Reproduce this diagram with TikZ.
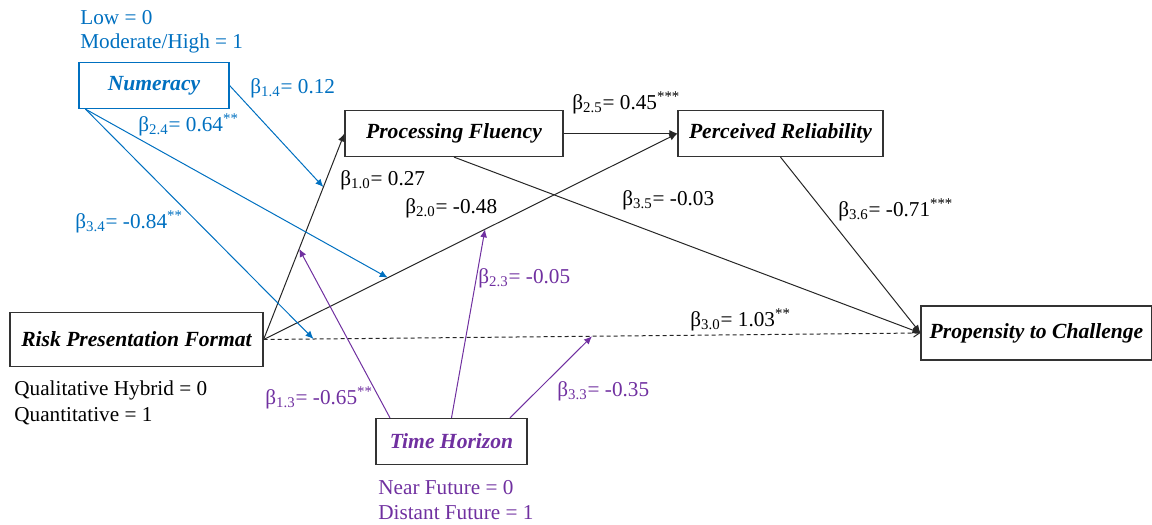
\documentclass[tikz,border=0pt]{standalone}
\usepackage{fontspec}
\setmainfont{Liberation Serif}
\usetikzlibrary{positioning,arrows.meta}
\definecolor{numblue}{RGB}{0,112,192}
\definecolor{thpurple}{RGB}{112,48,160}
\newcommand{\bcoef}[2]{β\textsubscript{#1}= #2}

\begin{document}
\begin{tikzpicture}[
  x=0.5pt, y=-0.5pt,
  font=\fontsize{10.6}{12}\selectfont,
  var/.style={rectangle, draw=black!80, line width=0.6pt, minimum height=23pt,
              inner sep=2pt, font=\fontsize{10.8}{12}\selectfont\bfseries\itshape},
  lab/.style={anchor=west, inner sep=0pt},
  eff/.style={-{Latex[length=4pt,width=3.5pt]}, draw=black!85, line width=0.5pt},
  nul/.style={-{Straight Barb[length=3pt,width=4pt]}, draw=black!85, line width=0.5pt,
              dash pattern=on 2pt off 1.5pt},
  modnum/.style={eff, draw=numblue},
  modth/.style={eff, draw=thpurple}
]
\useasboundingbox (0,0) rectangle (1152,525);

% variables
\node[var, draw=numblue, text=numblue, minimum width=75pt] (num) at (154,85.5) {Numeracy};
\node[var, minimum width=109pt] (pf)   at (454,133.5) {Processing Fluency};
\node[var, minimum width=102.5pt] (pr) at (780.5,133.5) {Perceived Reliability};
\node[var, minimum width=126.5pt, minimum height=27pt] (risk) at (136.5,339.5) {Risk Presentation Format};
\node[var, minimum width=115.5pt, minimum height=27pt] (prop) at (1036.5,333) {Propensity to Challenge};
\node[var, text=thpurple, minimum width=75.5pt] (th) at (451.5,441.5) {Time Horizon};

% codings
\node[lab, text=numblue] (numlo) at (80,18) {Low = 0};
\node[lab, text=numblue] (numhi) at (80,43) {Moderate/High = 1};
\node[lab] (riskq) at (14,390) {Qualitative Hybrid = 0};
\node[lab] (riskn) at (14,416) {Quantitative = 1};
\node[lab, text=thpurple] (thnear) at (378,488) {Near Future = 0};
\node[lab, text=thpurple] (thfar)  at (378,513) {Distant Future = 1};

% main paths
\draw[eff] (risk.east) -- (pf.west) coordinate[pos=0.74] (m10) coordinate[pos=0.44] (m13);
\draw[eff] (risk.east) -- (pr.west) coordinate[pos=0.30] (m20) coordinate[pos=0.535] (m23);
\draw[eff] (pf.east) -- (pr.west);
\draw[eff] (pf.south) -- (prop.west);
\draw[eff] (pr.south) -- (prop.west);
\draw[nul] (risk.east) -- (prop.west) coordinate[pos=0.076] (m30) coordinate[pos=0.50] (m33);

% moderators
\draw[modnum] (num.east) -- (m10);
\draw[modnum] (num.199) -- (m20);
\draw[modnum] (num.199) -- (m30);
\draw[modth] (th.159) -- (m13);
\draw[modth] (th.north) -- (m23);
\draw[modth] (th.22) -- (m33);

% coefficients
\node[lab, text=numblue] (b14) at (250,88) {\bcoef{1.4}{0.12}};
\node[lab, text=numblue] (b24) at (138,125) {\bcoef{2.4}{0.64\textsuperscript{**}}};
\node[lab, text=numblue] (b34) at (75,222) {\bcoef{3.4}{-0.84\textsuperscript{**}}};
\node[lab] (b10) at (340,180) {\bcoef{1.0}{0.27}};
\node[lab] (b20) at (405,208) {\bcoef{2.0}{-0.48}};
\node[lab] (b25) at (572,103) {\bcoef{2.5}{0.45\textsuperscript{***}}};
\node[lab] (b35) at (622,200) {\bcoef{3.5}{-0.03}};
\node[lab] (b36) at (838,210) {\bcoef{3.6}{-0.71\textsuperscript{***}}};
\node[lab] (b30) at (690,320) {\bcoef{3.0}{1.03\textsuperscript{**}}};
\node[lab, text=thpurple] (b23) at (478,278) {\bcoef{2.3}{-0.05}};
\node[lab, text=thpurple] (b13) at (265,398) {\bcoef{1.3}{-0.65\textsuperscript{**}}};
\node[lab, text=thpurple] (b33) at (557,391) {\bcoef{3.3}{-0.35}};
\end{tikzpicture}
\end{document}
